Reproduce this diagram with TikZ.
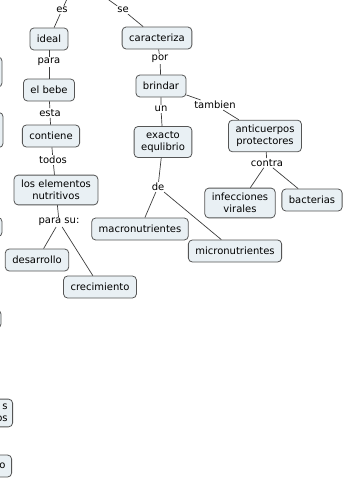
\documentclass[tikz,border=0pt]{standalone}
\usepackage{fontspec}
\setmainfont{DejaVu Sans}
\definecolor{boxfill}{RGB}{233,240,244}
\definecolor{boxline}{RGB}{85,85,85}
\definecolor{linkline}{RGB}{60,60,60}
\begin{document}
\begin{tikzpicture}[x=1pt,y=-1pt,
    concept/.style={draw=boxline,fill=boxfill,line width=0.8pt,rounded corners=4pt,
        inner xsep=7pt,inner ysep=5pt,minimum height=22pt,align=center,
        font=\fontsize{10}{12}\selectfont},
    phrase/.style={inner sep=1pt,align=center,font=\fontsize{10}{12}\selectfont},
    link/.style={draw=linkline,line width=0.7pt}]
                \useasboundingbox (0,0) rectangle (350,482);
                \clip (0,0) rectangle (350,482);

                % Cut boxes at the left edge
                \node[concept,minimum width=40pt,minimum height=30pt] (cutA) at (-18,72) {};
                \node[concept,minimum width=40pt,minimum height=35pt] (cutB) at (-17,130) {};
                \node[concept,minimum width=40pt,minimum height=19pt] (cutC) at (-18,227) {};
                \node[concept,minimum width=40pt,minimum height=18pt] (cutD) at (-19,319) {};
                \node[concept,anchor=east,align=right,inner xsep=5pt] (cutE) at (13,413) {s\\os};
                \node[concept,anchor=east,align=right,inner xsep=6pt] (cutF) at (12,466) {o};

                % Concepts
                \node[concept] (ideal) at (49,39) {ideal};
                \node[concept] (bebe) at (49,90) {el bebe};
                \node[concept] (contiene) at (51,136) {contiene};
                \node[concept] (elementos) at (56,190) {los elementos\\nutritivos};
                \node[concept] (desarrollo) at (37,260) {desarrollo};
                \node[concept] (crecimiento) at (100,287) {crecimiento};
                \node[concept] (caracteriza) at (157,38) {caracteriza};
                \node[concept] (brindar) at (161,86) {brindar};
                \node[concept] (equlibrio) at (163,142) {exacto\\equlibrio};
                \node[concept] (macro) at (140,229) {macronutrientes};
                \node[concept] (micro) at (235,251) {micronutrientes};
                \node[concept] (anticuerpos) at (265,136) {anticuerpos\\protectores};
                \node[concept] (infecciones) at (240,203) {infecciones\\virales};
                \node[concept] (bacterias) at (312,200) {bacterias};

                % Linking words
                \node[phrase] (es) at (62,10) {es};
                \node[phrase] (se) at (123,10) {se};
                \node[phrase] (para) at (49,62) {para};
                \node[phrase] (esta) at (50,113) {esta};
                \node[phrase] (todos) at (53,160) {todos};
                \node[phrase] (parasu) at (59,222) {para su:};
                \node[phrase] (por) at (160,59) {por};
                \node[phrase] (un) at (161,109) {un};
                \node[phrase] (tambien) at (215,105) {tambien};
                \node[phrase] (de) at (158,187) {de};
                \node[phrase] (contra) at (267,163) {contra};

                % Free ends above the edge
                \coordinate (topes) at (72,-12);
                \coordinate (topse) at (92,-12);

                % Connectors
                \draw[link] (topes) -- (es) -- (ideal);
                \draw[link] (topse) -- (se) -- (caracteriza);
                \draw[link] (ideal) -- (para) -- (bebe);
                \draw[link] (bebe) -- (esta) -- (contiene);
                \draw[link] (contiene) -- (todos) -- (elementos);
                \draw[link] (elementos) -- (parasu) -- (desarrollo);
                \draw[link] (parasu) -- (crecimiento);
                \draw[link] (caracteriza) -- (por) -- (brindar);
                \draw[link] (brindar) -- (un) -- (equlibrio);
                \draw[link] (brindar) -- (tambien) -- (anticuerpos);
                \draw[link] (equlibrio) -- (de) -- (macro);
                \draw[link] (de) -- (micro);
                \draw[link] (anticuerpos) -- (contra) -- (infecciones);
                \draw[link] (contra) -- (bacterias);
            \end{tikzpicture}
\end{document}
